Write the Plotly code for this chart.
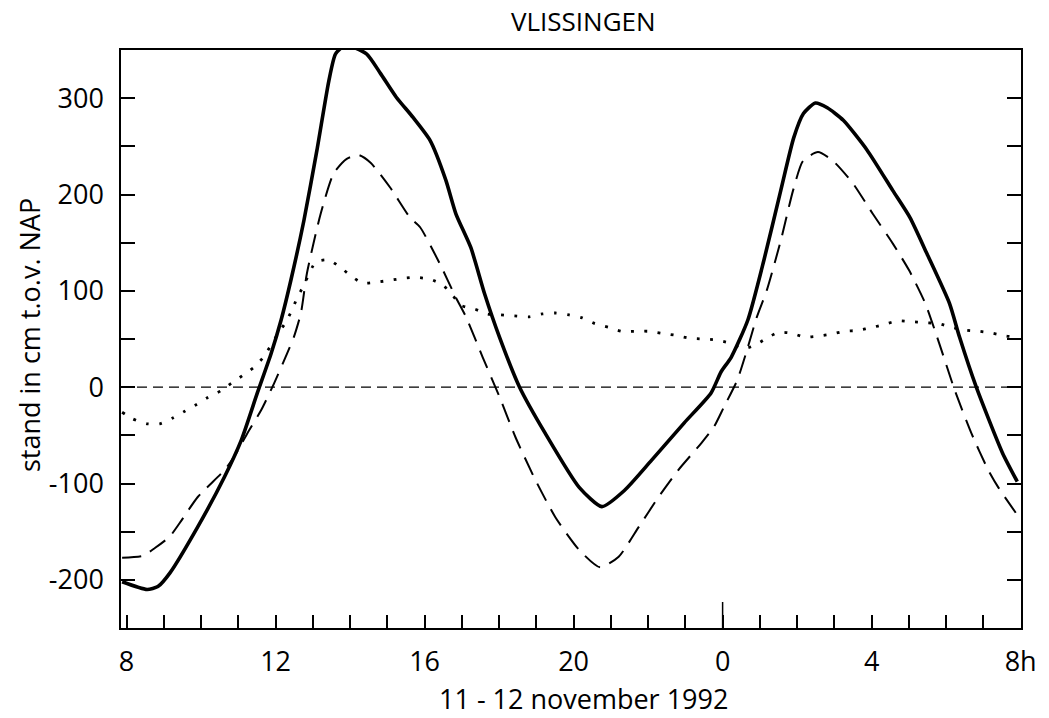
import plotly.graph_objects as go

# ---- data (hours since 11 Nov 00:00; values in cm relative to NAP) ----
hours_solid = [7.88, 8.55, 8.84, 9.16, 9.91, 10.63, 11.08, 11.51, 11.88, 12.15, 12.41, 12.76,
               13.11, 13.43, 13.61, 13.88, 14.44, 14.81, 15.24, 15.69, 16.15, 16.57, 16.84,
               17.24, 17.61, 18.01, 18.55, 19.24, 20.15, 20.76, 21.37, 22.09, 22.97, 23.69,
               23.96, 24.23, 24.68, 25.11, 25.56, 25.91, 26.17, 26.49, 26.81, 27.24, 27.88,
               28.57, 29.03, 29.48, 30.09, 30.36, 30.81, 31.51, 31.91]
level_solid = [-202, -210, -207, -193, -145, -93, -55, -6, 35, 70, 111, 173,
               246, 318, 346, 355, 346, 326, 301, 280, 256, 215, 180,
               145, 97, 52, 0, -48, -104, -124, -107, -76, -37, -6,
               16, 31, 70, 132, 204, 259, 284, 295, 290, 277, 246,
               204, 176, 139, 87, 52, 0, -68, -98]

hours_dashed = [7.88, 8.44, 8.76, 9.16, 9.48, 9.91, 10.63, 10.89, 11.24, 11.61, 11.96, 12.31,
                12.49, 12.68, 12.84, 13.21, 13.56, 13.91, 14.23, 14.55, 15.08, 15.61, 15.88,
                16.41, 16.84, 17.11, 17.56, 18.01, 18.44, 18.97, 19.51, 20.15, 20.71, 21.21,
                21.75, 22.28, 22.81, 23.43, 23.77, 24.03, 24.39, 24.65, 24.92, 25.19, 25.56,
                25.89, 26.16, 26.56, 26.96, 27.49, 28.03, 28.57, 29.01, 29.44, 29.81, 30.23,
                30.68, 31.13, 31.40, 31.88]
level_dashed = [-177, -175, -167, -155, -138, -114, -86, -72, -48, -24, 4, 35,
                52, 77, 118, 180, 222, 237, 241, 233, 207, 176, 166,
                128, 93, 73, 31, -10, -52, -96, -135, -169, -187, -176,
                -145, -114, -86, -58, -41, -21, 7, 38, 73, 101, 152,
                204, 235, 244, 235, 212, 180, 149, 121, 87, 46, -3,
                -48, -86, -104, -131]

hours_dotted = [7.88, 8.17, 8.55, 8.89, 9.24, 9.56, 9.88, 10.17, 10.52, 10.81, 11.11, 11.43,
                11.67, 12.04, 12.25, 12.44, 12.57, 12.76, 13.08, 13.43, 13.75, 14.04, 14.33,
                14.71, 15.08, 15.43, 15.77, 16.15, 16.49, 16.76, 16.97, 17.35, 17.69, 18.04,
                18.41, 18.81, 19.16, 19.51, 19.88, 20.23, 20.57, 20.95, 21.29, 21.64, 22.01,
                22.36, 22.71, 23.08, 23.48, 23.83, 24.17, 24.55, 24.84, 25.19, 25.51, 25.85,
                26.20, 26.57, 26.92, 27.27, 27.64, 28.01, 28.33, 28.71, 29.05, 29.40, 29.80,
                30.15, 30.55, 30.89, 31.24, 31.61, 31.91]
level_dotted = [-26, -33, -38, -38, -32, -25, -18, -11, -4, 4, 12, 21,
                31, 54, 66, 80, 92, 106, 130, 132, 124, 115, 108,
                109, 111, 113, 114, 112, 106, 95, 85, 81, 76, 75,
                74, 73, 76, 77, 75, 72, 66, 62, 58, 58, 58,
                56, 54, 51, 50, 49, 46, 40, 43, 51, 57, 56,
                52, 53, 55, 58, 59, 62, 65, 69, 68, 67, 66,
                62, 59, 58, 56, 53, 52]

x_tick_hours = list(range(8, 33))
x_label_map = {8: "8", 12: "12", 16: "16", 20: "20", 24: "0", 28: "4", 32: "8h"}
x_tick_text = [x_label_map.get(h, "") for h in x_tick_hours]

y_tick_vals = list(range(-200, 301, 50))
y_tick_text = [str(v) if v % 100 == 0 else "" for v in y_tick_vals]

title_text = "VLISSINGEN"
x_title = "11 - 12 november 1992"
y_title = "stand in cm t.o.v. NAP"

FONT = "Open Sans"

fig = go.Figure()
fig.add_hline(y=0, line=dict(color="black", width=1.3, dash="10px,6px"))
fig.add_trace(go.Scatter(x=hours_dotted, y=level_dotted, mode="lines",
                         line=dict(color="black", width=2.8, dash="2.8px,10.5px", shape="spline", smoothing=0.6),
                         showlegend=False))
fig.add_trace(go.Scatter(x=hours_dashed, y=level_dashed, mode="lines",
                         line=dict(color="black", width=2, dash="19px,10px", shape="spline", smoothing=0.6),
                         showlegend=False))
fig.add_trace(go.Scatter(x=hours_solid, y=level_solid, mode="lines",
                         line=dict(color="black", width=3.6, shape="spline", smoothing=0.6),
                         showlegend=False))

# longer tick mark at midnight
fig.add_shape(type="line", xref="x", yref="y", x0=24, x1=24, y0=-250, y1=-223,
              line=dict(color="black", width=1.5))

fig.update_layout(
    width=1041, height=710,
    margin=dict(l=113, r=21, t=42, b=90),
    paper_bgcolor="white", plot_bgcolor="white",
    font=dict(family=FONT, color="black", size=27),
    showlegend=False,
)
fig.update_xaxes(range=[7.85, 32.01], tickmode="array", tickvals=x_tick_hours, ticktext=x_tick_text,
                 ticks="inside", ticklen=13, tickwidth=1.5, tickcolor="black",
                 showline=True, linecolor="black", linewidth=1.5, mirror=True,
                 showgrid=False, zeroline=False, ticklabelstandoff=9,
                 tickfont=dict(family=FONT, size=27, color="black"))
fig.update_yaxes(range=[-250, 350], tickmode="array", tickvals=y_tick_vals, ticktext=y_tick_text,
                 ticks="inside", ticklen=14, tickwidth=1.5, tickcolor="black",
                 showline=True, linecolor="black", linewidth=1.5, mirror="ticks",
                 showgrid=False, zeroline=False, ticklabelstandoff=10,
                 tickfont=dict(family=FONT, size=27, color="black"))

fig.add_annotation(text=title_text, xref="paper", yref="paper", x=0.514, y=1.05,
                   xanchor="center", yanchor="middle", showarrow=False,
                   font=dict(family=FONT, size=26, color="black"))
fig.add_annotation(text=x_title, xref="paper", yref="paper", x=0.514, y=-0.122,
                   xanchor="center", yanchor="middle", showarrow=False,
                   font=dict(family=FONT, size=27, color="black"))
fig.add_annotation(text=y_title, xref="paper", yref="paper", x=-0.101, y=0.507,
                   xanchor="center", yanchor="middle", showarrow=False, textangle=-90,
                   font=dict(family=FONT, size=27, color="black"))

fig.write_html("out.html")
